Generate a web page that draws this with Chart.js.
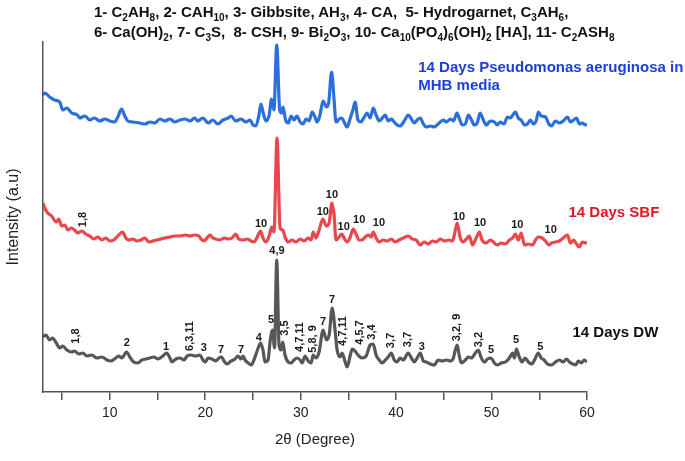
<!DOCTYPE html>
<html>
<head>
<meta charset="utf-8">
<script src="https://cdn.jsdelivr.net/npm/chart.js@4.4.1/dist/chart.umd.min.js"></script>
<style>
  html, body { margin: 0; padding: 0; background: #fff; }
  #wrap { position: relative; width: 685px; height: 461px; }
  #legendText {
    position: absolute; left: 94px; top: 2px;
    font: bold 15px "Liberation Sans", Arial, sans-serif; color: #111;
    line-height: 20px; white-space: nowrap;
  }
  #legendText sub { font-size: 10px; line-height: 0; }
</style>
</head>
<body>
<div id="wrap">
  <canvas id="xrdChart" width="685" height="461"></canvas>
  <div id="legendText">
    1- C<sub>2</sub>AH<sub>8</sub>, 2- CAH<sub>10</sub>, 3- Gibbsite, AH<sub>3</sub>, 4- CA, &nbsp;5- Hydrogarnet, C<sub>3</sub>AH<sub>6</sub>,<br>
    6- Ca(OH)<sub>2</sub>, 7- C<sub>3</sub>S, &nbsp;8- CSH, 9- Bi<sub>2</sub>O<sub>3</sub>, 10- Ca<sub>10</sub>(PO<sub>4</sub>)<sub>6</sub>(OH)<sub>2</sub> [HA], 11- C<sub>2</sub>ASH<sub>8</sub>
  </div>
</div>
<script>
// 2-theta positions and (offset, arbitrary) intensities for each pattern
const paAngle = [3.0,3.2,3.7,4.2,4.75,5.07,5.5,6.0,6.6,6.85,7.4,7.9,8.4,8.95,9.5,10.0,10.5,10.84,11.23,11.57,
  11.89,12.4,13.15,13.67,14.2,14.7,15.25,15.77,16.3,16.8,17.35,17.9,18.4,18.9,19.2,19.76,20.3,20.8,21.3,21.86,
  22.4,22.7,23.2,23.75,24.27,24.7,25.0,25.3,25.63,25.84,26.05,26.37,26.7,26.95,27.2,27.49,27.8,28.0,28.15,28.42,
  28.7,29.0,29.3,29.6,29.94,30.25,30.57,30.88,31.2,31.5,31.72,32.0,32.35,32.7,32.93,33.24,33.5,33.7,34.03,34.3,
  34.55,34.87,35.2,35.5,35.7,36.0,36.3,36.6,36.97,37.28,37.6,37.9,38.23,38.55,38.86,39.17,39.5,39.8,40.1,40.4,
  40.85,41.27,41.6,41.9,42.2,42.53,42.85,43.16,43.6,44.0,44.4,44.94,45.26,45.7,46.0,46.38,46.6,46.94,47.25,47.57,
  47.9,48.2,48.5,48.8,49.14,49.45,49.87,50.3,50.6,50.9,51.3,51.66,51.97,52.3,52.5,52.8,53.1,53.45,53.76,54.07,
  54.4,54.7,54.9,55.2,55.65,56.0,56.27,56.7,57.1,57.5,57.95,58.27,58.6,58.9,59.2,59.5,59.85,60.0];
const paCounts = [297,299,295,292,290,282,284,279,277,274,276,272,274,271,273,271,270,275,283,276,
  271,270,269,268,270,269,273,271,273,270,272,273,271,274,271,274,269,272,268,272,
  274,276,271,273,270,272,267,266,277,288,280,271,277,293,282,347,282,279,285,272,
  269,276,272,276,270,268,273,271,280,275,270,276,291,285,289,320,292,270,273,274,
  270,265,274,283,290,272,270,274,279,274,284,277,271,274,277,271,273,270,267,266,
  271,277,273,269,272,274,268,265,266,265,268,272,270,273,271,279,274,267,268,277,
  272,267,269,279,272,267,271,270,267,270,268,275,274,278,280,274,272,267,268,272,
  268,272,280,276,275,268,266,271,269,271,275,270,272,274,268,269,267,268];

const sbfAngle = [3.0,3.18,3.5,3.9,4.4,4.65,4.96,5.28,5.6,5.98,6.3,6.64,7.06,7.48,7.9,8.32,8.74,9.16,9.58,10.0,
  10.42,10.84,11.33,11.68,12.0,12.4,12.83,13.25,13.67,14.1,14.5,14.93,15.35,15.77,16.3,16.8,17.35,17.9,18.4,18.9,
  19.34,19.55,19.86,20.18,20.5,20.8,21.1,21.5,22.0,22.4,22.8,23.2,23.5,23.96,24.4,24.8,25.1,25.4,25.8,26.05,
  26.37,26.7,26.97,27.2,27.52,27.84,28.12,28.4,28.7,29.1,29.5,29.94,30.36,30.78,31.1,31.3,31.6,31.93,32.32,32.7,
  33.0,33.27,33.5,33.7,34.03,34.3,34.55,34.87,35.2,35.5,35.8,36.1,36.44,36.76,37.07,37.4,37.6,37.9,38.23,38.65,
  39.07,39.5,39.9,40.3,40.75,41.27,41.7,42.1,42.53,42.95,43.37,43.8,44.2,44.63,45.06,45.5,45.9,46.1,46.4,46.7,
  47.0,47.36,47.67,48.0,48.3,48.72,49.0,49.45,49.87,50.3,50.6,51.0,51.45,51.87,52.2,52.5,52.8,53.1,53.45,53.86,
  54.3,54.6,54.9,55.3,55.65,56.0,56.27,56.7,57.1,57.5,57.95,58.27,58.6,58.9,59.2,59.5,59.85,60.0];
const sbfCounts = [189,184,179,176,170,173,166,167,162,164,162,159,161,158,156,153,155,152,154,151,
  152,156,160,154,152,153,151,152,154,150,151,152,153,154,155,156,156,157,156,157,
  156,153,151,154,157,154,153,152,154,153,154,158,153,152,153,151,150,154,161,154,
  150,156,165,160,254,164,162,154,150,152,150,153,151,154,152,160,154,162,173,166,
  170,189,177,152,155,158,154,150,155,163,158,152,152,155,157,155,160,154,150,152,
  151,153,150,152,154,156,153,152,147,150,148,151,150,153,151,152,151,157,169,155,
  150,153,156,147,152,160,152,149,152,149,147,149,148,152,154,158,152,159,147,148,
  147,152,155,154,151,147,149,150,151,154,157,149,152,148,145,150,149,150];

const dwAngle = [3.0,3.3,3.7,4.0,4.33,4.75,5.07,5.5,5.98,6.3,6.75,7.17,7.6,8.1,8.64,9.16,9.7,10.1,10.5,10.94,
  11.26,11.75,12.1,12.5,12.94,13.36,13.78,14.2,14.62,15.04,15.56,15.95,16.3,16.5,16.93,17.35,17.77,18.1,18.5,19.0,
  19.44,19.76,20.0,20.3,20.7,21.12,21.44,21.72,21.96,22.28,22.7,23.12,23.43,23.75,23.96,24.17,24.5,24.8,25.1,25.4,
  25.8,26.05,26.26,26.58,26.79,27.05,27.26,27.49,27.73,27.94,28.12,28.36,28.68,29.0,29.3,29.62,29.94,30.15,30.46,30.78,
  31.1,31.3,31.6,31.93,32.35,32.7,33.0,33.3,33.6,33.82,34.13,34.34,34.66,34.87,35.2,35.4,35.7,36.0,36.44,36.86,
  37.28,37.6,37.9,38.23,38.55,38.86,39.17,39.5,39.8,40.1,40.4,40.75,41.27,41.6,41.9,42.2,42.53,42.85,43.16,43.6,
  44.0,44.4,44.84,45.26,45.7,46.0,46.2,46.4,46.6,46.83,47.25,47.57,47.9,48.3,48.6,48.93,49.25,49.57,49.95,50.3,
  50.6,51.0,51.45,51.87,52.2,52.4,52.6,52.9,53.2,53.5,53.86,54.2,54.5,54.9,55.2,55.5,55.85,56.27,56.7,57.1,
  57.5,57.85,58.16,58.5,58.8,59.1,59.4,59.7,60.0];
const dwCounts = [55,57,52,54,50,44,46,42,40,41,38,39,36,37,34,35,32,31,33,36,
  34,40,35,30,29,32,33,34,35,33,36,39,34,30,33,34,32,36,37,36,
  37,32,30,34,33,31,34,35,31,28,31,33,36,33,36,32,29,27,32,40,
  49,42,30,32,50,62,44,132,47,42,50,37,30,29,32,34,32,29,36,31,
  29,37,34,40,62,52,58,84,62,42,35,39,30,25,37,43,41,37,34,36,
  47,48,37,32,29,32,35,39,32,30,34,32,39,34,30,34,39,31,30,28,
  27,32,31,32,31,34,42,47,37,29,32,35,34,39,42,34,30,33,34,29,
  27,29,30,34,39,34,43,35,30,34,30,28,32,39,34,32,28,27,30,32,
  30,33,30,28,27,31,29,32,30];

// phase labels: [2theta, intensity, text, vertical]
const sbfPeakLabels = [
  [7.2,172.5,'1,8',true],[25.85,168,'10',false],[32.32,180,'10',false],[33.27,197,'10',false],
  [34.5,165,'10',false],[36.13,172,'10',false],[38.2,168.7,'10',false],[46.6,175,'10',false],
  [48.8,168.7,'10',false],[52.7,167,'10',false],[56.2,162,'10',false]
];
const dwPeakLabels = [
  [6.43,56,'1,8',true],[11.78,49,'2',false],[15.9,45,'1',false],[18.4,56,'6,3,11',true],
  [19.86,44,'3',false],[21.65,42,'7',false],[23.75,42,'7',false],[25.6,54,'4',false],
  [26.9,72,'5',false],[27.52,141,'4,9',false],[28.36,64,'3,5',true],[29.94,55,'4,7,11',true],
  [31.3,53,'5,8, 9',true],[32.35,70,'7',false],[33.3,92,'7',false],[34.4,61,'4,7,11',true],
  [36.23,59.5,'4,5,7',true],[37.46,60,'3,4',true],[39.5,51.5,'3,7',true],[41.27,52.5,'3,7',true],
  [42.7,45,'3',false],[46.38,64.5,'3,2, 9',true],[48.65,52.5,'3,2',true],[49.95,42,'5',false],
  [52.57,52,'5',false],[55.12,45,'5',false]
];
// sample names: [2theta at text start, intensity, text, colour]
const seriesNames = [
  [42.32,324,'14 Days Pseudomonas aeruginosa in','#1c3fd8'],
  [42.32,306,'MHB media','#1c3fd8'],
  [58.06,179,'14 Days SBF','#e3161f'],
  [58.48,59,'14 Days DW','#111111']
];

function toPoints(xs, ys) {
  return xs.map(function (x, i) { return { x: x, y: ys[i] }; });
}

const annotate = {
  id: 'annotate',
  afterDatasetsDraw: function (chart) {
    const ctx = chart.ctx;
    const xs = chart.scales.x, ys = chart.scales.y;
    ctx.save();
    ctx.fillStyle = '#1a1a1a';
    ctx.font = 'bold 11px "Liberation Sans", Arial, sans-serif';
    ctx.textAlign = 'center';
    ctx.textBaseline = 'middle';
    sbfPeakLabels.concat(dwPeakLabels).forEach(function (l) {
      const px = xs.getPixelForValue(l[0]);
      const py = ys.getPixelForValue(l[1]);
      ctx.save();
      ctx.translate(px, py);
      if (l[3]) ctx.rotate(-Math.PI / 2);
      ctx.fillText(l[2], 0, 0);
      ctx.restore();
    });
    ctx.font = 'bold 15px "Liberation Sans", Arial, sans-serif';
    ctx.textAlign = 'left';
    seriesNames.forEach(function (s) {
      ctx.fillStyle = s[3];
      ctx.fillText(s[2], xs.getPixelForValue(s[0]), ys.getPixelForValue(s[1]));
    });
    ctx.restore();
  }
};

const lineStyle = {
  fill: false,
  borderWidth: 3.2,
  pointRadius: 0,
  cubicInterpolationMode: 'monotone'
};

new Chart(document.getElementById('xrdChart'), {
  type: 'line',
  data: {
    datasets: [
      Object.assign({ label: 'PA', data: toPoints(paAngle, paCounts), borderColor: '#2a6fdc' }, lineStyle),
      Object.assign({ label: 'SBF', data: toPoints(sbfAngle, sbfCounts), borderColor: '#e8474b' }, lineStyle),
      Object.assign({ label: 'DW', data: toPoints(dwAngle, dwCounts), borderColor: '#575757' }, lineStyle)
    ]
  },
  options: {
    responsive: false,
    animation: false,
    layout: { padding: { top: 42, right: 98, left: 2, bottom: 0 } },
    plugins: { legend: { display: false }, tooltip: { enabled: false } },
    scales: {
      x: {
        type: 'linear',
        min: 3,
        max: 60,
        afterFit: function (scale) { scale.height = 69; },
        border: { display: true, color: '#555', width: 1.5 },
        grid: { drawOnChartArea: false, drawTicks: true, tickLength: 8, color: '#555', lineWidth: 1.5 },
        ticks: {
          stepSize: 5,
          includeBounds: false,
          autoSkip: false,
          maxRotation: 0,
          padding: 5,
          color: '#222',
          font: { size: 14, family: '"Liberation Sans", Arial, sans-serif' },
          callback: function (v) { return v % 10 === 0 ? v : ''; }
        },
        title: {
          display: true,
          text: '2θ (Degree)',
          color: '#222',
          font: { size: 15, family: '"Liberation Sans", Arial, sans-serif' },
          padding: { top: 0, bottom: 12 }
        }
      },
      y: {
        min: 0,
        max: 350,
        afterFit: function (scale) { scale.width = 41; },
        border: { display: true, color: '#555', width: 1.5 },
        grid: { display: false },
        ticks: { display: false },
        title: {
          display: true,
          text: 'Intensity (a.u)',
          color: '#222',
          font: { size: 16, family: '"Liberation Sans", Arial, sans-serif' },
          padding: { top: 2, bottom: 0 }
        }
      }
    }
  },
  plugins: [annotate]
});
</script>
</body>
</html>
